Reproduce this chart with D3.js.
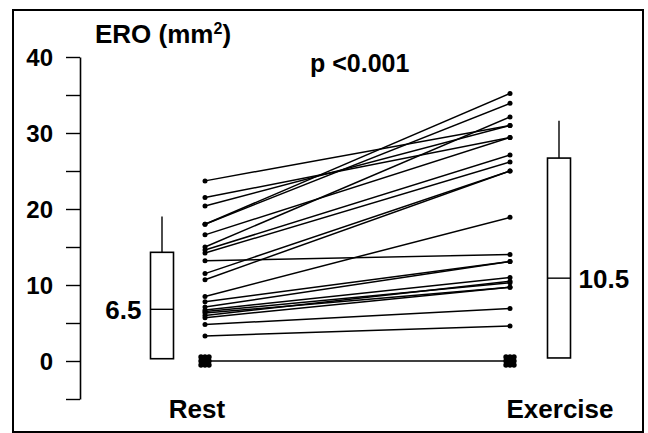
<!DOCTYPE html>
<html>
<head>
<meta charset="utf-8">
<script src="https://cdn.jsdelivr.net/npm/d3@7"></script>
<style>
  body { margin: 0; background: #fff; }
  svg text { font-family: "Liberation Sans", Arial, sans-serif; font-weight: bold; fill: #000; }
</style>
</head>
<body>
<div id="chart"></div>
<script>
// Data
const conditions = ['Rest', 'Exercise'];
const restValues =     [23.7, 21.5, 20.4, 18.0, 18.0, 16.6, 15.0, 14.6, 14.2, 13.2, 11.5, 10.7, 8.5, 7.8, 7.1, 6.7, 6.5, 6.3, 6.0, 5.7, 4.8, 3.3, 0];
const exerciseValues = [31.0, 29.4, 31.0, 35.2, 33.9, 29.4, 32.1, 27.1, 26.2, 14.0, 25.0, 25.0, 18.9, 13.1, 13.1, 11.0, 10.3, 9.7, 10.5, 9.7, 6.9, 4.6, 0];
// box summaries: [bottom, median, top, upper whisker]
const restBox = [0.3, 6.8, 14.3, 19.0];
const exerciseBox = [0.4, 10.9, 26.7, 31.6];
const medianLabels = ['6.5', '10.5'];
const yTicks = [0, 10, 20, 30, 40];
const yMinorTicks = [-5, 0, 5, 10, 15, 20, 25, 30, 35, 40];

const width = 648, height = 433;

const svg = d3.select('#chart').append('svg')
    .attr('width', width)
    .attr('height', height);

// frame
svg.append('rect')
    .attr('x', 13).attr('y', 10)
    .attr('width', 630).attr('height', 422)
    .attr('fill', 'none')
    .attr('stroke', '#000')
    .attr('stroke-width', 2);

const y = d3.scaleLinear()
    .domain([-5, 40])
    .range([399, 57]);

const x = d3.scalePoint()
    .domain(conditions)
    .range([205, 510]);

// y axis
const axis = svg.append('g')
    .attr('transform', 'translate(80,0)')
    .call(d3.axisLeft(y).tickValues(yMinorTicks).tickSize(14).tickFormat('').tickSizeOuter(0));
axis.select('.domain').attr('stroke-width', 1.6);
axis.selectAll('.tick line').attr('stroke-width', 1.4);

svg.selectAll('.ylab')
    .data(yTicks)
    .enter().append('text')
    .attr('class', 'ylab')
    .attr('x', 53)
    .attr('y', d => y(d))
    .attr('dy', '0.36em')
    .attr('text-anchor', 'end')
    .style('font-size', '24px')
    .text(d => d);

// axis title
const title = svg.append('text')
    .attr('x', 95)
    .attr('y', 43)
    .style('font-size', '26px');
title.append('tspan').text('ERO (mm');
title.append('tspan').attr('dy', -9).style('font-size', '16px').text('2');
title.append('tspan').attr('dy', 9).text(')');

svg.append('text')
    .attr('x', 310)
    .attr('y', 72)
    .style('font-size', '25px')
    .text('p <0.001');

// paired lines
const pairs = restValues.map((r, i) => ({ rest: r, exercise: exerciseValues[i] }));

svg.selectAll('.pair')
    .data(pairs)
    .enter().append('line')
    .attr('class', 'pair')
    .attr('x1', x('Rest'))
    .attr('y1', d => y(d.rest))
    .attr('x2', x('Exercise'))
    .attr('y2', d => y(d.exercise))
    .attr('stroke', '#000')
    .attr('stroke-width', 1.5);

// dots
const points = [];
pairs.forEach(d => {
    points.push({ cond: 'Rest', v: d.rest });
    points.push({ cond: 'Exercise', v: d.exercise });
});

const offs = [-4, 0, 4];
points.forEach(p => {
    const g = svg.append('g');
    if (p.v === 0) {
        // zero values drawn as a dense cluster
        offs.forEach(dx => offs.forEach(dy => {
            g.append('circle')
                .attr('cx', x(p.cond) + dx)
                .attr('cy', y(p.v) + dy)
                .attr('r', 2.7)
                .attr('fill', '#000');
        }));
    } else {
        g.append('circle')
            .attr('cx', x(p.cond))
            .attr('cy', y(p.v))
            .attr('r', 2.5)
            .attr('fill', '#000');
    }
});

// box plots
const boxes = [
    { cond: 'Rest', box: restBox, label: medianLabels[0], cx: 162, side: -1 },
    { cond: 'Exercise', box: exerciseBox, label: medianLabels[1], cx: 559, side: 1 }
];
const boxW = 23;

boxes.forEach(b => {
    const g = svg.append('g');
    g.append('line')
        .attr('x1', b.cx).attr('x2', b.cx)
        .attr('y1', y(b.box[2])).attr('y2', y(b.box[3]))
        .attr('stroke', '#000').attr('stroke-width', 1.4);
    g.append('rect')
        .attr('x', b.cx - boxW / 2)
        .attr('y', y(b.box[2]))
        .attr('width', boxW)
        .attr('height', y(b.box[0]) - y(b.box[2]))
        .attr('fill', '#fff')
        .attr('stroke', '#000')
        .attr('stroke-width', 1.6);
    g.append('line')
        .attr('x1', b.cx - boxW / 2).attr('x2', b.cx + boxW / 2)
        .attr('y1', y(b.box[1])).attr('y2', y(b.box[1]))
        .attr('stroke', '#000').attr('stroke-width', 1.4);
    g.append('text')
        .attr('x', b.side < 0 ? b.cx - boxW / 2 - 9 : b.cx + boxW / 2 + 8)
        .attr('y', y(b.box[1]))
        .attr('dy', '0.36em')
        .attr('text-anchor', b.side < 0 ? 'end' : 'start')
        .style('font-size', '26px')
        .text(b.label);
});

// category labels
svg.selectAll('.cat')
    .data([{ c: 'Rest', cx: 197 }, { c: 'Exercise', cx: 560 }])
    .enter().append('text')
    .attr('class', 'cat')
    .attr('x', d => d.cx)
    .attr('y', 418)
    .attr('text-anchor', 'middle')
    .style('font-size', '26px')
    .text(d => d.c);
</script>
</body>
</html>
